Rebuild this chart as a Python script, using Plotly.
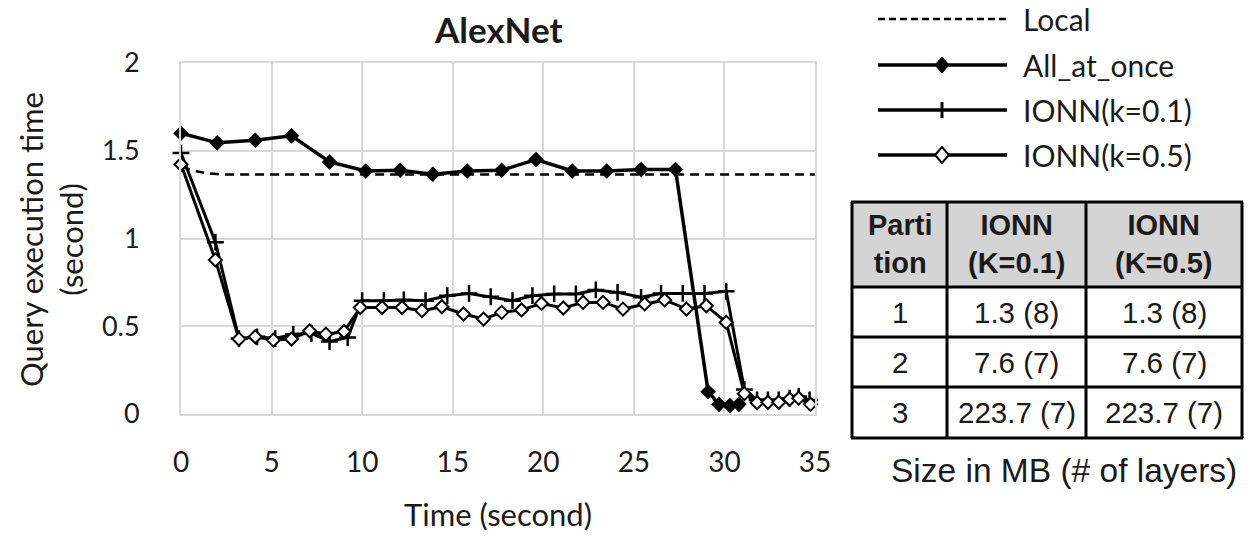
import plotly.graph_objects as go

# ---------------- data ----------------
local_t = [0, 1, 2, 4, 6, 8, 10, 12, 14, 16, 18, 20, 22, 24, 26, 28, 30, 32, 34, 35]
local_y = [1.41, 1.38, 1.367, 1.365, 1.365, 1.365, 1.365, 1.365, 1.365, 1.365,
           1.365, 1.365, 1.365, 1.365, 1.365, 1.365, 1.365, 1.365, 1.365, 1.365]

all_t = [0, 2.0, 4.1, 6.1, 8.2, 10.2, 12.1, 13.9, 15.8, 17.7, 19.6, 21.6, 23.5,
         25.4, 27.3, 29.1, 29.7, 30.3, 30.8]
all_y = [1.60, 1.545, 1.56, 1.585, 1.436, 1.385, 1.389, 1.366, 1.385, 1.389,
         1.45, 1.385, 1.385, 1.393, 1.393, 0.127, 0.055, 0.048, 0.055]

k01_t = [0, 1.9, 3.2, 4.2, 5.2, 6.2, 7.2, 8.2, 9.2, 10.0, 11.2, 12.3, 13.5, 14.7,
         15.9, 17.1, 18.3, 19.4, 20.6, 21.8, 22.9, 24.1, 25.4, 26.5, 27.7, 28.9,
         30.1, 31.1, 31.8, 32.4, 33.0, 33.6, 34.1, 34.7]
k01_y = [1.487, 0.979, 0.43, 0.44, 0.43, 0.455, 0.46, 0.413, 0.436, 0.646, 0.646,
         0.65, 0.646, 0.674, 0.687, 0.668, 0.646, 0.674, 0.684, 0.684, 0.707,
         0.693, 0.665, 0.687, 0.687, 0.687, 0.699, 0.14, 0.08, 0.08, 0.08, 0.09,
         0.10, 0.08]

k05_t = [0, 1.9, 3.2, 4.1, 5.1, 6.1, 7.1, 8.0, 9.0, 9.9, 11.1, 12.2, 13.3, 14.4,
         15.6, 16.7, 17.7, 18.8, 19.9, 21.1, 22.2, 23.3, 24.4, 25.6, 26.7, 27.9,
         29.0, 30.1, 31.1, 31.8, 32.4, 33.0, 33.6, 34.1, 34.75]
k05_y = [1.423, 0.878, 0.427, 0.44, 0.421, 0.427, 0.474, 0.455, 0.47, 0.607, 0.607,
         0.607, 0.589, 0.611, 0.57, 0.541, 0.579, 0.593, 0.63, 0.604, 0.636, 0.636,
         0.598, 0.627, 0.65, 0.598, 0.617, 0.522, 0.116, 0.064, 0.067, 0.067,
         0.084, 0.09, 0.055]

x_ticks = [0, 5, 10, 15, 20, 25, 30, 35]
y_ticks = [0, 0.5, 1, 1.5, 2]
y_tick_labels = ["0", "0.5", "1", "1.5", "2"]

legend_names = ["Local", "All_at_once", "IONN(k=0.1)", "IONN(k=0.5)"]

table_header = ["Parti<br>tion", "IONN<br>(K=0.1)", "IONN<br>(K=0.5)"]
table_partition = ["1", "2", "3"]
table_k01 = ["1.3 (8)", "7.6 (7)", "223.7 (7)"]
table_k05 = ["1.3 (8)", "7.6 (7)", "223.7 (7)"]
table_caption = "Size in MB (# of layers)"

# ---------------- layout helpers ----------------
W, H = 1252, 536
L, R, T, B = 181, 815, 63, 414   # plot area in window pixels


def px(x):
    return (x - L) / (R - L)


def py(y):
    return (B - y) / (B - T)


CH_FONT = "Lato"
TB_FONT = "Liberation Sans"
TXT = "#1a1a1a"

fig = go.Figure()

fig.add_trace(go.Scatter(x=local_t, y=local_y, mode="lines", name=legend_names[0],
                         line=dict(color="black", width=2.5, dash="9px,6px", shape="spline"),
                         showlegend=False, cliponaxis=False))
fig.add_trace(go.Scatter(x=all_t, y=all_y, mode="lines+markers", name=legend_names[1],
                         line=dict(color="black", width=3.5),
                         marker=dict(symbol="diamond", size=12, color="black"),
                         showlegend=False, cliponaxis=False))
fig.add_trace(go.Scatter(x=k01_t, y=k01_y, mode="lines+markers", name=legend_names[2],
                         line=dict(color="black", width=3),
                         marker=dict(symbol="cross-thin", size=12, color="black",
                                     line=dict(color="black", width=2.5)),
                         showlegend=False, cliponaxis=False))
fig.add_trace(go.Scatter(x=k05_t, y=k05_y, mode="lines+markers", name=legend_names[3],
                         line=dict(color="black", width=3),
                         marker=dict(symbol="diamond", size=10, color="white",
                                     line=dict(color="black", width=2)),
                         showlegend=False, cliponaxis=False))

shapes = []
annotations = []

# ----- legend drawn manually -----
leg_rows = [19, 65, 110, 155]
lx0, lx1, mx = 878, 1007, 942
for i, (yy, name) in enumerate(zip(leg_rows, legend_names)):
    if i == 0:
        shapes.append(dict(type="line", xref="paper", yref="paper",
                           x0=px(lx0), x1=px(lx1), y0=py(yy), y1=py(yy),
                           line=dict(color="black", width=2.5, dash="7px,4px")))
    else:
        shapes.append(dict(type="line", xref="paper", yref="paper",
                           x0=px(lx0), x1=px(lx1), y0=py(yy), y1=py(yy),
                           line=dict(color="black", width=3.5)))
    if i == 1:
        hw, hh = 7, 8
        path = "M {} {} L {} {} L {} {} L {} {} Z".format(
            px(mx - hw), py(yy), px(mx), py(yy - hh), px(mx + hw), py(yy), px(mx), py(yy + hh))
        shapes.append(dict(type="path", xref="paper", yref="paper", path=path,
                           fillcolor="black", line=dict(color="black", width=1)))
    elif i == 2:
        shapes.append(dict(type="line", xref="paper", yref="paper",
                           x0=px(mx), x1=px(mx), y0=py(yy - 8), y1=py(yy + 8),
                           line=dict(color="black", width=3)))
    elif i == 3:
        hw, hh = 7, 8
        path = "M {} {} L {} {} L {} {} L {} {} Z".format(
            px(mx - hw), py(yy), px(mx), py(yy - hh), px(mx + hw), py(yy), px(mx), py(yy + hh))
        shapes.append(dict(type="path", xref="paper", yref="paper", path=path,
                           fillcolor="white", line=dict(color="black", width=2)))
    annotations.append(dict(xref="paper", yref="paper", x=px(1021), y=py(yy),
                            xanchor="left", yanchor="middle", showarrow=False,
                            text=name, font=dict(family=CH_FONT, size=30, color=TXT)))

# ----- table drawn manually -----
tx = [852, 947, 1086, 1242]
ty = [202, 287, 337, 387, 438]
shapes.append(dict(type="rect", xref="paper", yref="paper",
                   x0=px(tx[0]), x1=px(tx[3]), y0=py(ty[0]), y1=py(ty[1]),
                   fillcolor="#d4d4d4", line=dict(width=0), layer="below"))
for xv in tx:
    shapes.append(dict(type="line", xref="paper", yref="paper",
                       x0=px(xv), x1=px(xv), y0=py(ty[0]), y1=py(ty[-1]),
                       line=dict(color="black", width=3)))
for yv in ty:
    shapes.append(dict(type="line", xref="paper", yref="paper",
                       x0=px(tx[0] - 1), x1=px(tx[-1] + 1), y0=py(yv), y1=py(yv),
                       line=dict(color="black", width=3)))

col_c = [(tx[i] + tx[i + 1]) / 2 for i in range(3)]
for c, txt in zip(col_c, table_header):
    annotations.append(dict(xref="paper", yref="paper", x=px(c), y=py((ty[0] + ty[1]) / 2),
                            xanchor="center", yanchor="middle", showarrow=False,
                            text="<b>" + txt.replace("<br>", "</b><br><b>") + "</b>",
                            font=dict(family=TB_FONT, size=29, color=TXT)))
for r in range(3):
    yc = (ty[r + 1] + ty[r + 2]) / 2
    for c, txt in zip(col_c, [table_partition[r], table_k01[r], table_k05[r]]):
        annotations.append(dict(xref="paper", yref="paper", x=px(c), y=py(yc),
                                xanchor="center", yanchor="middle", showarrow=False,
                                text=txt, font=dict(family=TB_FONT, size=29.5, color=TXT)))
annotations.append(dict(xref="paper", yref="paper", x=px(1064), y=py(470),
                        xanchor="center", yanchor="middle", showarrow=False,
                        text=table_caption, font=dict(family=TB_FONT, size=33.5, color=TXT)))

# ----- title and axis titles -----
annotations.append(dict(xref="paper", yref="paper", x=px(498), y=py(29),
                        xanchor="center", yanchor="middle", showarrow=False,
                        text="<b>AlexNet</b>", font=dict(family=CH_FONT, size=35, color=TXT)))
annotations.append(dict(xref="paper", yref="paper", x=px(51), y=py(240),
                        xanchor="center", yanchor="middle", showarrow=False, textangle=-90,
                        text="Query execution time<br>(second)",
                        font=dict(family=CH_FONT, size=31, color=TXT)))
annotations.append(dict(xref="paper", yref="paper", x=px(498), y=py(514),
                        xanchor="center", yanchor="middle", showarrow=False,
                        text="Time (second)", font=dict(family=CH_FONT, size=31, color=TXT)))

GRID = "#d9d9d9"
fig.update_layout(
    width=W, height=H,
    margin=dict(l=L, r=W - R, t=T, b=H - B, pad=0),
    paper_bgcolor="white", plot_bgcolor="white",
    showlegend=False, hovermode=False,
    shapes=shapes, annotations=annotations,
    xaxis=dict(range=[0, 35], tickvals=x_ticks, ticktext=[str(v) for v in x_ticks],
               showgrid=True, gridcolor=GRID, gridwidth=2,
               showline=True, linecolor=GRID, linewidth=2, mirror=True,
               zeroline=False, ticks="", ticklabelstandoff=22,
               tickfont=dict(family=CH_FONT, size=28, color=TXT)),
    yaxis=dict(range=[0, 2], tickvals=y_ticks, ticktext=y_tick_labels,
               showgrid=True, gridcolor=GRID, gridwidth=2,
               showline=True, linecolor=GRID, linewidth=2, mirror=True,
               zeroline=False, ticks="", ticklabelstandoff=34,
               tickfont=dict(family=CH_FONT, size=27, color=TXT)),
)

fig.write_html("out.html", config={"displayModeBar": False, "staticPlot": True},
               post_script="document.body.style.margin='0';document.body.style.overflow='hidden';")
